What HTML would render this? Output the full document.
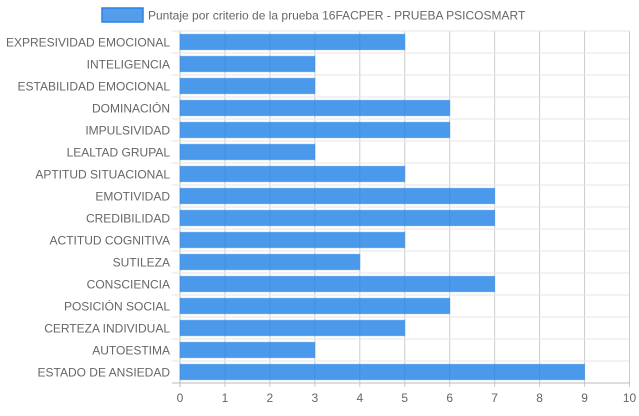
<!DOCTYPE html>
<html><head><meta charset="utf-8"><style>
body{margin:0;background:#fff;}
svg text{font-family:"Liberation Sans",sans-serif;font-size:12px;fill:#666;}
</style></head><body>
<svg id="chart" width="639" height="411" xmlns="http://www.w3.org/2000/svg">
<g>
<rect x="102" y="8" width="41" height="14" fill="rgba(54,140,230,0.85)" stroke="#2a82e4" stroke-width="1.5"/>
<text x="148" y="19.5">Puntaje por criterio de la prueba 16FACPER - PRUEBA PSICOSMART</text>
</g>
<g id="grid"></g><g id="bars"></g><g id="labels"></g>
</svg>
<script>
const categories=["EXPRESIVIDAD EMOCIONAL","INTELIGENCIA","ESTABILIDAD EMOCIONAL","DOMINACIÓN","IMPULSIVIDAD","LEALTAD GRUPAL","APTITUD SITUACIONAL","EMOTIVIDAD","CREDIBILIDAD","ACTITUD COGNITIVA","SUTILEZA","CONSCIENCIA","POSICIÓN SOCIAL","CERTEZA INDIVIDUAL","AUTOESTIMA","ESTADO DE ANSIEDAD"];
const values=[5,3,3,6,6,3,5,7,7,5,4,7,6,5,3,9];
const ticks=[0,1,2,3,4,5,6,7,8,9,10];
const NS="http://www.w3.org/2000/svg";
const x0=180,x1=629.5,yTop=31,yBot=383;
const xs=v=>x0+(v-ticks[0])/(ticks[ticks.length-1]-ticks[0])*(x1-x0);
const band=(yBot-yTop)/categories.length;
const ys=i=>yTop+i*band;
function mk(t,a,p){const e=document.createElementNS(NS,t);for(const k in a)e.setAttribute(k,a[k]);p.appendChild(e);return e;}
const grid=document.getElementById('grid'),bars=document.getElementById('bars'),labels=document.getElementById('labels');
ticks.forEach(t=>{
  const l=mk('line',{x1:xs(t),x2:xs(t),y1:yTop,y2:yBot+4,stroke:t===0?'#bbb':'#ccc','stroke-width':1},grid);
  
  
  const tx=mk('text',{x:xs(t),y:yBot+19,'text-anchor':'middle'},labels);
  tx.textContent=t;
  
  
});
for(let i=0;i<=categories.length;i++){
  const l=mk('line',{x1:x0-8,x2:x1,y1:ys(i),y2:ys(i),stroke:i===categories.length?'#bbb':'#e6e6e6','stroke-width':1},grid);
  
  
}
categories.forEach((c,i)=>{
  const h=band*0.7, y=ys(i)+(band-h)/2;
  const r=mk('rect',{x:x0,y:y,width:xs(values[i])-x0,height:h,fill:'rgba(30,128,230,0.8)',stroke:'rgba(54,140,230,0.5)','stroke-width':1},bars);
  
  
  const t=mk('text',{x:x0-10,y:ys(i)+band/2+4.5,'text-anchor':'end'},labels);
  t.textContent=c;
  
  
});
</script>
</body></html>
